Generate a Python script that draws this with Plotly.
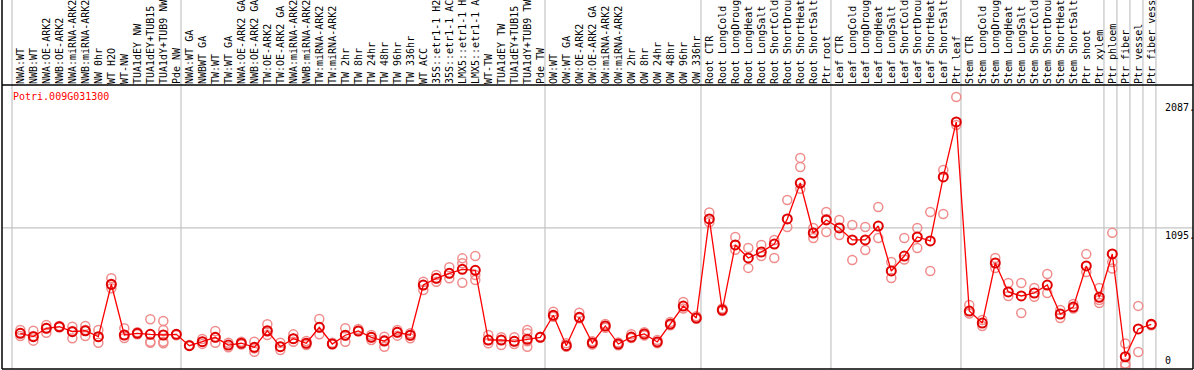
import plotly.graph_objects as go

categories = [
    "NWA:WT", "NWB:WT", "NWA:OE-ARK2", "NWB:OE-ARK2", "NWA:miRNA-ARK2", "NWB:miRNA-ARK2",
    "NW 0hr", "WT H2O", "WT-NW", "TUA1dEY NW", "TUA1dEY+TUB15 NW", "TUA1dY+TUB9 NW", "Pde NW",
    "NWA:WT GA", "NWBWT GA", "TW:WT", "TW:WT GA", "NWA:OE-ARK2 GA", "NWB:OE-ARK2 GA",
    "TW:OE-ARK2", "TW:OE-ARK2 GA", "NWA:miRNA-ARK2", "NWB:miRNA-ARK2", "TW:miRNA-ARK2",
    "TW:miRNA-ARK2 ", "TW 2hr", "TW 8hr", "TW 24hr", "TW 48hr", "TW 96hr", "TW 336hr",
    "WT ACC", "35S::etr1-1 H2O", "35S::etr1-1 ACC", "LMX5::etr1-1 H2O", "LMX5::etr1-1 ACC",
    "WT-TW", "TUA1dEY TW", "TUA1dEY+TUB15 TW", "TUA1dY+TUB9 TW", "Pde TW",
    "OW:WT", "OW:WT GA", "OW:OE-ARK2", "OW:OE-ARK2 GA", "OW:miRNA-ARK2", "OW:miRNA-ARK2 ",
    "OW 2hr", "OW 8hr", "OW 24hr", "OW 48hr", "OW 96hr", "OW 336hr",
    "Root CTR", "Root LongCold", "Root LongDrought", "Root LongHeat", "Root LongSalt",
    "Root ShortCold", "Root ShortDrought", "Root ShortHeat", "Root ShortSalt", "Ptr root",
    "Leaf CTR", "Leaf LongCold", "Leaf LongDrought", "Leaf LongHeat", "Leaf LongSalt",
    "Leaf ShortCold", "Leaf ShortDrought", "Leaf ShortHeat", "Leaf ShortSalt", "Ptr leaf",
    "Stem CTR", "Stem LongCold", "Stem LongDrought", "Stem LongHeat", "Stem LongSalt",
    "Stem ShortCold", "Stem ShortDrought", "Stem ShortHeat", "Stem ShortSalt", "Ptr shoot",
    "Ptr xylem", "Ptr phloem", "Ptr fiber", "Ptr vessel", "Ptr fiber vessel",
]

mean_values = [
    277, 251, 316, 328, 290, 297, 251, 658, 264, 277, 269, 264, 269,
    181, 212, 246, 186, 200, 168, 297, 173, 235, 200, 324, 194, 262, 295, 246, 217, 285, 262,
    652, 704, 743, 774, 766, 225, 225, 215, 231, 246,
    417, 181, 401, 202, 334, 194, 248, 272, 210, 349, 489, 396,
    1165, 458, 963, 862, 908, 970, 1165, 1444, 1056, 1157,
    1095, 1002, 1002, 1110, 761, 877, 1025, 994, 1491, 1918,
    450, 357, 823, 598, 567, 590, 652, 427, 481, 800,
    557, 893, 95, 311, 347,
]

replicate_values = [
    [303, 280, 256], [297, 256, 220], [342, 318, 282], [334, 326, 324], [328, 295, 238],
    [334, 303, 256], [303, 248, 204], [704, 652, 627], [316, 264, 240], [285, 277, 270],
    [386, 212, 204], [373, 303, 212, 200], [269, 262],
    [181, 186], [233, 212, 195], [295, 246, 204], [204, 168], [212, 190], [212, 160, 134],
    [347, 290, 264], [204, 173, 148], [269, 235, 212], [217, 200, 186], [388, 324, 269],
    [204, 194], [316, 262, 212], [311, 295], [264, 246, 225], [251, 225, 173],
    [303, 285, 259], [277, 262, 238],
    [678, 652, 613], [730, 704, 678], [790, 743, 704], [859, 821, 670], [877, 730, 691],
    [264, 225, 200], [246, 225, 186], [246, 215, 194], [303, 277, 215, 173], [251, 246],
    [445, 417, 406], [200, 181, 173], [437, 401, 394], [215, 190], [350, 320], [205, 185],
    [270, 240], [285, 260], [225, 200], [365, 340], [520, 470], [410, 390],
    [1215, 1140], [470, 450], [1025, 925], [940, 785], [963, 878], [1002, 862],
    [1312, 1102], [1639, 1569, 1400], [1095, 1017], [1219, 1165, 1064],
    [1157, 1040], [1118, 846], [1102, 923], [1258, 1017], [831, 707], [1017, 850],
    [1095, 940], [1219, 761], [1545, 1203], [2112, 1895],
    [497, 430], [380, 334], [862, 784], [668, 567], [668, 435], [629, 560], [737, 590],
    [458, 396], [505, 470], [892, 753],
    [629, 536, 512], [1057, 831, 780], [198, 43, 25], [490, 132], [347, 340],
]

# first index of each group (vertical separators)
group_starts = [0, 13, 41, 53, 63, 73, 84, 85, 86, 87, 88]

y_ticks = [0, 1095, 2087]
y_tick_text = ["0", "1095.", "2087."]
gene_name = "Potri.009G031300"

FONT = "DejaVu Sans Mono"
idx = list(range(len(categories)))

rep_x, rep_y = [], []
for i, reps in enumerate(replicate_values):
    for v in reps:
        rep_x.append(i)
        rep_y.append(v)

fig = go.Figure()
fig.add_trace(go.Scatter(
    x=rep_x, y=rep_y, mode="markers",
    marker=dict(symbol="circle-open", size=9, color="#f08c8c", line=dict(width=1.5)),
    hoverinfo="skip", showlegend=False,
))
fig.add_trace(go.Scatter(
    x=idx, y=mean_values, mode="lines+markers",
    line=dict(color="#ff0000", width=1.3),
    marker=dict(symbol="circle-open", size=9, color="#e00000", line=dict(width=2)),
    showlegend=False,
))

shapes = []
for g in group_starts:
    shapes.append(dict(type="line", xref="x", yref="paper", x0=g - 0.64, x1=g - 0.64,
                       y0=0, y1=1.31, line=dict(color="#c4c4c4", width=1.2), layer="below"))
shapes.append(dict(type="line", xref="paper", yref="y", x0=0, x1=1, y0=y_ticks[1], y1=y_ticks[1],
                   line=dict(color="#c4c4c4", width=1.2), layer="below"))
# frame
shapes.append(dict(type="line", xref="paper", yref="paper", x0=0, x1=1, y0=1, y1=1,
                   line=dict(color="black", width=1.5)))
shapes.append(dict(type="line", xref="paper", yref="paper", x0=0, x1=1, y0=0, y1=0,
                   line=dict(color="black", width=1.5)))
shapes.append(dict(type="line", xref="paper", yref="paper", x0=0, x1=0, y0=0, y1=1.31,
                   line=dict(color="black", width=1.5)))
shapes.append(dict(type="line", xref="paper", yref="paper", x0=1, x1=1, y0=0, y1=1.31,
                   line=dict(color="black", width=1.5)))

annotations = [dict(text=gene_name, xref="paper", yref="paper", x=0.0075, y=0.958,
                    xanchor="left", yanchor="middle", showarrow=False,
                    font=dict(family=FONT, size=10, color="#ff0000"))]
for v, t in zip(y_ticks, y_tick_text):
    annotations.append(dict(text=t, xref="paper", yref="y", x=0.9745, y=v,
                            xanchor="left", yanchor="bottom" if v == 0 else "top",
                            showarrow=False, yshift=1 if v == 0 else 0,
                            font=dict(family=FONT, size=10, color="black")))

fig.update_layout(
    width=1194, height=370,
    margin=dict(l=2, r=1, t=85, b=1, pad=0),
    paper_bgcolor="white", plot_bgcolor="white",
    shapes=shapes, annotations=annotations,
    xaxis=dict(
        range=[-1.41, 90.21], side="top", tickmode="array", tickvals=idx, ticktext=categories,
        tickangle=-90, tickfont=dict(family=FONT, size=10, color="black"),
        showgrid=False, zeroline=False, showline=False, ticks="", automargin=False,
    ),
    yaxis=dict(range=[0, 2205], showticklabels=False, showgrid=False, zeroline=False,
               showline=False, ticks=""),
)

fig.write_html(
    "out.html",
    config={"displayModeBar": False},
    post_script="document.body.style.margin='0px';document.body.style.overflow='hidden';",
)
